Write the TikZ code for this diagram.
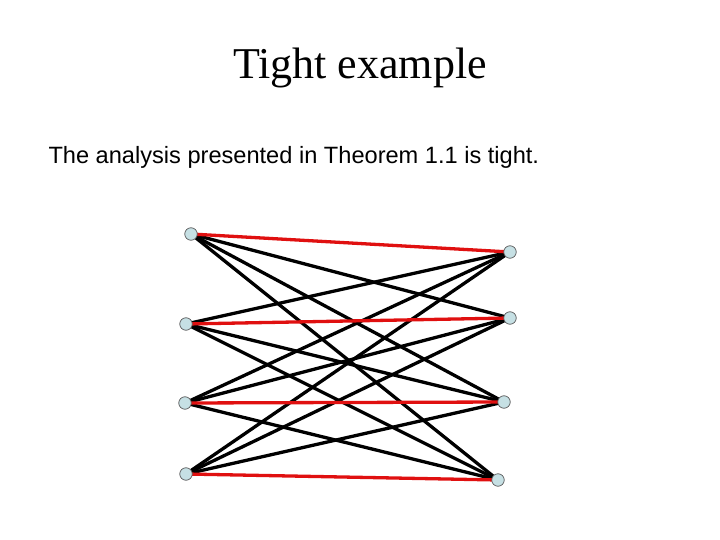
\documentclass[tikz,border=0pt]{standalone}
\usepackage{fontspec}
\setmainfont{Liberation Serif}
\newfontfamily\arial{Liberation Sans}
\definecolor{vfill}{HTML}{C6E0E4}
\definecolor{ered}{HTML}{E01010}
\begin{document}
\begin{tikzpicture}[x=1pt,y=-1pt,
  vtx/.style={circle,draw=gray!70!black,fill=vfill,inner sep=0pt,minimum size=12.5pt,line width=0.7pt},
  bl/.style={line width=3.3pt,black},
  rd/.style={line width=3.3pt,ered}]
\useasboundingbox (0,0) rectangle (720,540);
\node[font=\fontsize{44}{50}\selectfont] (title) at (360,68) {Tight example};
\node[font=\arial\fontsize{23.6}{28}\selectfont,anchor=west] (txt) at (45,157) {The analysis presented in Theorem 1.1 is tight.};
\coordinate (L1) at (191,234);
\coordinate (L2) at (186,324);
\coordinate (L3) at (185,403);
\coordinate (L4) at (186,474);
\coordinate (R1) at (510,252);
\coordinate (R2) at (510,318);
\coordinate (R3) at (504,402);
\coordinate (R4) at (498,480);
\foreach \i in {1,...,4}{\foreach \j in {1,...,4}{
  \ifnum\i=\j\else\draw[bl] (L\i) -- (R\j);\fi}}
\foreach \i in {1,...,4}{\draw[rd] (L\i) -- (R\i);}
\foreach \n in {L1,L2,L3,L4,R1,R2,R3,R4}{\node[vtx] (v\n) at (\n) {};}
\end{tikzpicture}
\end{document}
